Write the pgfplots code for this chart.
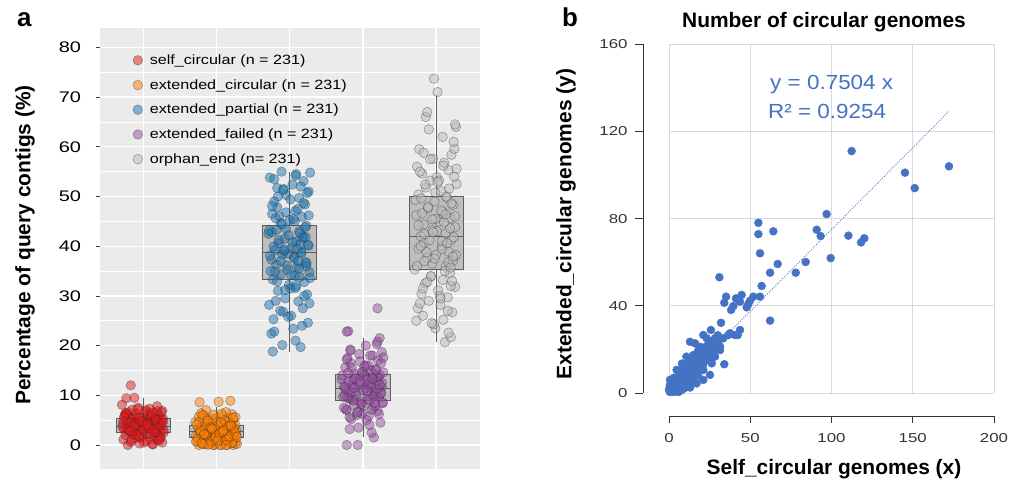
\documentclass[border=0pt]{standalone}
\usepackage{fontspec}
\setmainfont{Liberation Sans}
\newfontfamily\tickfont[FakeStretch=1.3]{Liberation Sans}
\newfontfamily\legfont[FakeStretch=1.2]{Liberation Sans}
\newfontfamily\regfont[FakeStretch=1.1]{Liberation Sans}
\usepackage{pgfplots}
\usepackage{pgfplotstable}
\pgfplotsset{compat=1.18}
\usepgfplotslibrary{statistics}

\definecolor{bgA}{HTML}{EBEBEB}
\definecolor{boxfill}{HTML}{BEBEBE}
\definecolor{boxedge}{HTML}{5E5E5E}
\definecolor{cred}{HTML}{E41A1C}
\definecolor{corange}{HTML}{FF7F00}
\definecolor{cblue}{HTML}{1F77B4}
\definecolor{cpurple}{HTML}{984EA3}
\definecolor{cgray}{HTML}{BDBDBD}
\definecolor{ptblue}{HTML}{4472C4}
\definecolor{gridB}{HTML}{D9D9D9}
\definecolor{axisB}{HTML}{333333}

% jittered points, panel a
\pgfplotstableread{
x y
0.79 0.0
1.13 0.1
0.95 0.3
1.26 0.5
0.83 0.6
1.04 0.8
1.19 1.0
0.73 1.1
1.09 1.3
0.89 1.4
1.23 1.6
0.98 1.7
1.15 1.9
0.76 2.0
1.07 2.2
0.86 2.3
1.28 2.5
0.92 2.6
1.01 2.7
0.81 2.8
1.17 3.0
0.74 3.1
1.11 3.2
0.96 3.3
1.21 3.4
0.87 3.5
1.05 3.6
1.25 3.7
0.78 3.8
1.02 3.9
0.91 4.0
1.18 4.1
0.72 4.2
1.12 4.3
0.94 4.4
1.24 4.5
0.84 4.6
1.08 4.7
0.99 4.8
1.20 4.9
0.77 5.0
1.14 5.1
0.88 5.2
1.27 5.3
0.97 5.5
1.10 5.6
0.82 5.7
1.22 5.9
0.75 6.0
1.06 6.1
0.90 6.3
1.16 6.4
0.80 6.6
1.03 6.7
1.26 6.9
0.85 7.1
1.09 7.3
0.93 7.5
1.19 7.8
0.71 8.1
1.13 0.2
0.95 1.5
1.23 2.4
0.88 3.6
1.00 4.6
1.17 5.4
0.76 6.2
0.77 9.4
0.88 9.5
0.83 12.0
1.20 1.2
0.94 1.8
1.09 2.3
0.83 2.7
1.28 3.0
1.02 3.3
0.80 3.5
1.13 3.8
0.96 4.0
1.23 4.2
0.88 4.4
1.06 4.7
0.73 4.9
1.16 5.2
0.92 5.5
1.10 5.8
0.78 6.2
1.25 6.6
1.04 7.0
0.85 2.0
1.18 2.5
0.99 2.9
1.14 3.2
0.72 3.6
1.21 3.9
0.89 4.1
1.07 4.3
0.81 4.6
1.26 5.0
0.95 5.4
1.11 6.0
0.76 6.4
1.19 6.8
1.01 0.5
0.84 1.0
1.24 1.5
0.91 2.1
1.15 2.6
0.79 3.1
1.08 3.4
0.87 3.7
1.27 4.5
0.98 4.8
1.17 5.1
0.74 5.7
1.12 6.5
0.93 7.2
1.22 0.9
0.82 2.8
1.05 4.0
}\redtab

\pgfplotstableread{
x y
2.23 0.0
1.98 0.0
2.15 0.0
1.76 0.0
2.07 0.0
1.86 0.1
2.28 0.2
1.92 0.3
2.01 0.4
1.81 0.5
2.17 0.6
1.74 0.7
2.11 0.8
1.96 0.9
2.21 1.0
1.87 1.1
2.05 1.2
2.25 1.3
1.78 1.4
2.02 1.5
1.91 1.6
2.18 1.7
1.72 1.8
2.12 1.9
1.94 2.0
2.24 2.1
1.84 2.2
2.08 2.3
1.99 2.4
2.20 2.5
1.77 2.6
2.14 2.7
1.88 2.8
2.27 2.9
1.97 3.0
2.10 3.1
1.82 3.2
2.22 3.3
1.75 3.4
2.06 3.5
1.90 3.6
2.16 3.7
1.80 3.8
2.03 3.9
2.26 4.0
1.85 4.1
2.09 4.2
1.93 4.4
2.19 4.5
1.71 4.6
2.13 4.8
1.95 4.9
2.23 5.1
1.88 5.2
2.00 5.4
2.17 5.5
1.76 5.7
2.08 5.9
1.83 6.0
2.21 6.2
1.79 6.4
2.13 6.6
1.95 0.0
2.26 0.3
1.83 1.2
2.04 2.2
1.86 7.0
1.77 8.6
2.03 8.7
2.19 8.9
2.05 0.0
1.82 0.2
2.22 0.5
1.93 0.8
2.12 1.0
1.74 1.3
2.17 1.5
1.98 1.8
2.27 2.0
1.87 2.3
2.08 2.5
1.79 2.7
2.15 3.0
1.91 3.2
2.24 3.4
1.84 3.7
2.01 4.0
2.19 4.3
1.76 4.6
2.11 5.0
1.95 5.3
2.26 5.6
1.81 6.0
2.07 6.3
1.89 0.1
2.21 0.4
1.72 0.7
2.14 1.1
1.99 1.4
2.18 1.7
1.85 2.1
2.04 2.4
2.25 2.6
1.78 2.9
2.10 3.1
1.92 3.5
2.16 3.8
1.73 4.1
2.06 4.5
1.88 4.9
2.23 5.5
1.96 6.1
2.13 0.0
1.80 0.3
2.02 0.9
2.28 1.6
1.83 2.2
2.09 2.8
1.94 3.3
2.20 3.9
}\orangetab

\pgfplotstableread{
x y
2.77 18.8
3.15 19.7
2.90 20.1
3.08 21.0
2.75 22.4
2.79 22.8
3.05 23.4
3.25 24.6
2.78 25.3
3.02 26.0
2.91 26.8
3.18 27.5
2.72 28.2
3.12 28.9
2.94 29.5
3.24 30.3
2.84 31.0
3.08 31.6
2.99 32.2
3.20 32.8
2.77 33.3
3.14 33.8
2.88 34.3
3.27 34.8
2.97 35.3
3.10 35.8
2.82 36.3
3.22 36.8
2.75 37.3
3.06 37.8
2.90 38.3
3.16 38.8
2.80 39.2
3.03 39.7
3.26 40.1
2.85 40.6
3.09 41.0
2.93 41.5
3.19 42.0
2.71 42.5
3.13 43.0
2.95 43.5
3.23 44.1
2.88 44.7
3.00 45.3
3.17 45.9
2.76 46.5
3.08 47.1
2.83 47.8
3.21 48.4
2.79 49.0
3.13 49.7
2.95 50.3
3.26 51.0
2.83 51.7
3.04 52.4
3.19 53.1
2.73 53.8
3.09 54.5
2.89 55.0
3.23 36.0
2.98 38.5
3.15 40.4
2.76 42.8
3.07 34.0
2.86 46.0
3.28 54.8
2.92 51.5
3.01 31.5
2.81 29.0
3.20 30.0
2.94 31.2
3.09 32.0
2.83 32.9
3.28 33.6
3.02 34.2
2.80 34.9
3.13 35.5
2.96 36.1
3.23 36.6
2.88 37.0
3.06 37.6
2.73 38.1
3.16 38.6
2.92 39.0
3.10 39.5
2.78 39.9
3.25 40.3
3.04 40.8
2.85 41.2
3.18 41.7
2.99 42.2
3.14 42.7
2.72 43.2
3.21 43.8
2.89 44.4
3.07 45.0
2.81 45.6
3.26 46.2
2.95 46.8
3.11 47.5
2.76 48.1
3.19 48.7
3.01 49.4
2.84 50.0
3.24 50.7
2.91 51.3
3.15 52.0
2.79 53.5
3.08 54.2
2.87 27.0
3.27 28.5
2.98 25.8
3.17 24.0
2.74 35.0
3.12 37.0
2.93 39.3
3.22 41.8
2.82 43.3
3.05 45.5
}\bluetab

\pgfplotstableread{
x y
3.78 0.0
3.93 0.0
4.15 1.5
4.12 2.5
3.82 3.2
4.24 4.5
3.84 5.2
4.08 5.8
3.99 6.3
4.20 6.8
3.77 7.2
4.14 7.6
3.88 8.0
4.27 8.4
3.97 8.7
4.10 9.0
3.82 9.3
4.22 9.6
3.75 9.9
4.06 10.2
3.90 10.5
4.16 10.8
3.80 11.1
4.03 11.4
4.26 11.7
3.85 12.0
4.09 12.3
3.93 12.6
4.19 12.9
3.71 13.2
4.13 13.5
3.95 13.8
4.23 14.1
3.88 14.4
4.00 14.8
4.17 15.2
3.76 15.6
4.08 16.0
3.83 16.5
4.21 17.0
3.79 17.5
4.13 18.0
3.95 18.3
4.26 18.7
3.83 19.2
4.04 20.0
4.19 20.3
4.23 21.5
3.80 22.9
3.78 22.8
4.20 27.5
3.98 8.2
4.15 10.0
3.76 11.2
4.07 12.4
3.86 13.0
4.28 14.6
3.92 6.0
4.01 7.8
3.81 9.5
4.17 10.7
3.74 11.8
4.11 15.0
3.96 16.8
4.21 12.8
3.87 9.2
4.05 13.7
4.25 10.4
3.78 7.0
4.02 14.0
4.05 5.0
3.82 5.6
4.22 6.2
3.93 6.7
4.12 7.1
3.74 7.5
4.17 7.9
3.98 8.3
4.27 8.6
3.87 8.9
4.08 9.2
3.79 9.5
4.15 9.8
3.91 10.1
4.24 10.4
3.84 10.7
4.01 11.0
4.19 11.3
3.76 11.6
4.11 11.9
3.95 12.2
4.26 12.5
3.81 12.8
4.07 13.1
3.89 13.4
4.21 13.7
3.72 14.0
4.14 14.3
3.99 14.7
4.18 15.1
3.85 15.5
4.04 16.0
4.25 16.5
3.78 17.2
4.10 18.0
3.92 6.5
4.16 8.5
3.73 9.7
4.06 10.9
3.88 11.5
4.23 12.1
3.96 12.7
4.13 13.3
3.80 14.5
4.02 15.8
4.28 17.6
3.83 19.0
4.09 4.0
3.94 3.5
4.20 20.8
}\purpletab

\pgfplotstableread{
x y
5.12 20.7
5.20 21.7
5.17 22.6
4.99 23.5
4.97 24.3
5.10 25.2
4.82 26.0
5.22 26.7
4.75 27.5
5.06 28.2
4.90 29.0
5.16 29.7
4.80 30.4
5.03 31.1
5.26 31.8
4.85 32.5
5.09 33.2
4.93 33.9
5.19 34.6
4.71 35.3
5.13 35.9
4.95 36.5
5.23 37.1
4.88 37.7
5.00 38.3
5.17 38.9
4.76 39.5
5.08 40.1
4.83 40.7
5.21 41.3
4.79 42.0
5.13 42.6
4.95 43.2
5.26 43.8
4.83 44.4
5.04 45.0
5.19 45.6
4.73 46.2
5.09 46.9
4.89 47.6
5.23 48.3
4.98 49.0
5.15 49.7
4.76 50.4
5.07 51.1
4.86 51.8
5.28 52.5
4.92 53.2
5.01 53.9
4.81 54.6
5.17 55.3
4.74 56.0
5.11 56.8
4.96 57.6
5.21 58.4
4.77 59.5
5.25 59.6
5.24 61.0
4.90 63.5
5.27 64.0
5.26 64.5
4.86 66.0
4.88 67.0
5.02 71.0
4.97 73.7
4.84 37.0
5.08 41.0
4.99 45.5
5.20 32.0
4.78 28.5
5.05 30.0
4.82 31.5
5.22 33.0
4.93 34.0
5.12 35.0
4.74 36.0
5.17 36.8
4.98 37.5
5.27 38.2
4.87 38.8
5.08 39.4
4.79 40.0
5.15 40.6
4.91 41.2
5.24 41.8
4.84 42.4
5.01 43.0
5.19 43.6
4.76 44.2
5.11 44.8
4.95 45.4
5.26 46.0
4.81 46.6
5.07 47.2
4.89 47.9
5.21 48.6
4.72 49.3
5.14 50.0
4.99 50.8
5.18 51.6
4.85 52.4
5.04 53.2
5.25 54.0
4.78 55.0
5.10 56.2
4.92 57.5
5.16 27.0
4.73 25.0
5.06 29.5
4.88 32.8
5.23 37.9
4.96 42.8
5.13 46.4
4.80 49.6
5.02 52.9
5.28 55.6
4.83 58.8
5.09 62.0
4.94 24.5
5.20 35.7
}\graytab

% panel b: self_circular vs extended_circular counts
\pgfplotstableread{
x y
112.4 111.0
172.3 104.0
145.2 101.1
151.2 94.0
97.0 82.1
55.0 78.1
55.0 72.9
64.2 74.2
90.9 74.9
93.3 72.0
110.4 72.2
118.2 69.1
120.2 71.0
56.0 64.1
66.9 59.2
62.2 55.2
78.0 55.2
84.1 60.1
99.5 61.9
31.0 53.1
57.0 49.1
44.7 45.0
41.2 43.4
35.1 44.2
34.0 41.4
51.9 44.2
56.0 44.2
48.8 40.8
47.8 39.3
38.2 38.1
39.6 39.9
43.7 41.9
49.8 42.3
62.2 33.2
32.0 32.2
43.7 28.9
42.3 26.6
36.5 26.6
37.5 27.4
40.6 26.6
34.0 13.2
25.8 28.9
31.4 21.2
33.4 25.1
30.3 22.8
28.3 25.1
23.2 25.1
21.1 26.6
27.3 18.9
31.4 19.7
26.3 13.6
28.3 16.7
23.2 20.5
23.2 15.1
19.1 21.2
19.1 15.9
16.0 22.8
15.0 17.4
12.9 23.5
10.7 16.7
8.8 12.1
4.7 10.6
12.9 9.8
17.0 9.0
21.1 10.6
25.2 8.3
21.1 6.0
17.0 4.4
12.9 5.2
8.8 6.0
4.7 4.4
0.6 6.0
0.5 2.2
3.7 0.6
7.8 1.4
0.5 0.5
1.0 1.0
1.0 2.0
2.0 0.5
2.0 2.0
2.0 3.0
3.0 1.0
3.0 2.0
3.0 4.0
4.0 2.0
4.0 3.0
4.0 5.0
5.0 1.0
5.0 3.0
5.0 6.0
6.0 2.0
6.0 4.0
6.0 7.0
7.0 3.0
7.0 5.0
7.0 8.0
8.0 4.0
8.0 7.0
8.0 9.0
9.0 5.0
9.0 8.0
9.0 10.0
10.0 6.0
10.0 9.0
10.0 12.0
0.0 1.5
0.5 3.5
2.0 5.0
3.0 7.0
6.0 9.5
8.0 13.5
11.0 3.0
14.0 4.5
15.0 7.5
11.0 8.0
11.0 12.5
12.0 10.5
12.0 14.0
13.0 12.0
14.0 11.0
14.0 15.0
15.0 10.0
15.0 13.0
16.0 12.0
16.0 15.0
17.0 11.5
17.0 17.0
18.0 13.5
18.0 19.5
20.0 14.0
20.0 17.5
21.0 13.0
21.0 19.0
22.0 16.0
22.0 21.0
24.0 18.0
24.0 22.0
25.0 17.0
26.0 20.5
27.0 24.0
29.0 22.0
30.0 26.5
18.0 8.0
13.0 2.5
9.0 2.0
6.0 0.5
1.5 4.5
}\circtab

\pgfplotsset{
 jit/.style={only marks, mark=*, mark size=4.8bp,
  mark options={fill=#1, fill opacity=0.5, draw=black!85, draw opacity=0.45, line width=0.5bp}},
 bx/.style={boxplot/draw direction=y, fill=boxfill, draw=boxedge, line width=0.7bp, forget plot},
}

\begin{document}
\begin{tikzpicture}
\useasboundingbox (0,0) rectangle (1011bp,486bp);

% ---- panel a
\begin{axis}[at={(100bp,17bp)}, anchor=south west, scale only axis,
 width=380bp, height=441bp,
 xmin=0.41, xmax=5.6, ymin=-4.83, ymax=83.9,
 axis background/.style={fill=bgA}, axis line style={draw=none},
 xtick={1,2,3,4,5}, xticklabels={,,,,,},
 ytick={0,10,...,80}, minor ytick={5,15,...,75},
 grid=both,
 major grid style={draw=white, line width=1.3bp},
 minor grid style={draw=white, line width=0.6bp},
 tick align=outside, ytick pos=left, xtick pos=bottom,
 major tick length=3.5bp, minor tick length=0pt,
 xtick style={draw=none}, ytick style={draw=black!75, line width=0.7bp},
 /pgf/number format/assume math mode=true,
 yticklabel style={font=\tickfont\fontsize{15.4}{15.4}\selectfont, xshift=-12bp},
 legend cell align=left,
 legend image code/.code={\path[draw=none, fill=none] (0bp,0bp) -- (15bp,0bp);
  \draw[mark repeat=2,mark phase=2,#1] plot coordinates {(0bp,0bp) (5bp,0bp) (10bp,0bp)};},
 legend style={at={(0.078,0.949)}, anchor=north west, draw=none, fill=none,
  font=\legfont\fontsize{13.5}{13.5}\selectfont, row sep=9.5bp},
]
\addplot[bx, boxplot prepared={draw position=1, lower whisker=0, lower quartile=2.6,
 median=3.7, upper quartile=5.3, upper whisker=9.5, box extend=0.74, whisker extend=0}] coordinates {};
\addplot[bx, boxplot prepared={draw position=2, lower whisker=0, lower quartile=1.5,
 median=2.8, upper quartile=4.0, upper whisker=7.7, box extend=0.74, whisker extend=0}] coordinates {};
\addplot[bx, boxplot prepared={draw position=3, lower whisker=18.8, lower quartile=33.3,
 median=38.8, upper quartile=44.1, upper whisker=55.0, box extend=0.74, whisker extend=0}] coordinates {};
\addplot[bx, boxplot prepared={draw position=4, lower whisker=1.6, lower quartile=8.9,
 median=11.4, upper quartile=14.3, upper whisker=21.5, box extend=0.74, whisker extend=0}] coordinates {};
\addplot[bx, boxplot prepared={draw position=5, lower whisker=20.8, lower quartile=35.3,
 median=42.0, upper quartile=50.0, upper whisker=70.5, box extend=0.74, whisker extend=0}] coordinates {};

\addplot[jit=cred] table[x=x, y=y] {\redtab};
\addlegendentry{self\_circular (n = 231)}
\addplot[jit=corange] table[x=x, y=y] {\orangetab};
\addlegendentry{extended\_circular (n = 231)}
\addplot[jit=cblue] table[x=x, y=y] {\bluetab};
\addlegendentry{extended\_partial (n = 231)}
\addplot[jit=cpurple] table[x=x, y=y] {\purpletab};
\addlegendentry{extended\_failed (n = 231)}
\addplot[jit=cgray] table[x=x, y=y] {\graytab};
\addlegendentry{orphan\_end (n= 231)}
\end{axis}

% ---- panel b, data and grid
\begin{axis}[at={(669bp,93bp)}, anchor=south west, scale only axis,
 width=325bp, height=348.7bp,
 xmin=0, xmax=200, ymin=0, ymax=160,
 xtick={0,50,...,200}, ytick={0,40,...,160},
 xticklabels={,,,,,}, yticklabels={,,,,,}, tick style={draw=none},
 grid=major, major grid style={draw=gridB, line width=0.8bp},
 axis line style={draw=none}, clip=false,
]
\addplot[ptblue, line width=0.9bp, dash pattern=on 0.9bp off 1.5bp] coordinates {(0,0) (172,129.07)};
\addplot[only marks, mark=*, mark size=4bp, draw=ptblue, fill=ptblue] table[x=x, y=y] {\circtab};
\end{axis}

% offset y axis
\begin{axis}[at={(643bp,93bp)}, anchor=south west, scale only axis,
 width=5bp, height=348.7bp, xmin=0, xmax=1, ymin=0, ymax=160,
 hide x axis, axis y line*=left, ytick={0,40,...,160},
 tick align=outside, major tick length=8bp,
 y axis line style={draw=axisB, line width=0.9bp},
 ytick style={draw=axisB, line width=0.9bp},
 /pgf/number format/assume math mode=true,
 yticklabel style={font=\tickfont\fontsize{13}{13}\selectfont, text=axisB, xshift=-4bp},
]
\end{axis}

% offset x axis
\begin{axis}[at={(669bp,70bp)}, anchor=south west, scale only axis,
 width=325bp, height=5bp, xmin=0, xmax=200, ymin=0, ymax=1,
 hide y axis, axis x line*=bottom, xtick={0,50,...,200},
 tick align=outside, major tick length=7bp,
 x axis line style={draw=axisB, line width=0.9bp},
 xtick style={draw=axisB, line width=0.9bp},
 /pgf/number format/assume math mode=true,
 xticklabel style={font=\tickfont\fontsize{13}{13}\selectfont, text=axisB, yshift=-7bp},
]
\end{axis}

% titles and labels
\node[rotate=90, font=\bfseries\fontsize{21}{21}\selectfont] at (25bp,241bp) {Percentage of query contigs (\%)};
\node[anchor=base west, inner sep=0pt, font=\bfseries\fontsize{26}{26}\selectfont] at (17bp,459bp) {a};
\node[anchor=base west, inner sep=0pt, font=\bfseries\fontsize{26}{26}\selectfont] at (562bp,459bp) {b};
\node[font=\bfseries\fontsize{21}{21}\selectfont] at (824bp,463.5bp) {Number of circular genomes};
\node[font=\bfseries\fontsize{21}{21}\selectfont] at (834bp,17bp) {Self\_circular genomes (x)};
\node[rotate=90, font=\bfseries\fontsize{21}{21}\selectfont] at (566bp,262bp) {Extended\_circular genomes (y)};
\node[anchor=base west, inner sep=0pt, text=ptblue, font=\regfont\fontsize{20.5}{20.5}\selectfont] at (770bp,396bp) {y = 0.7504 x};
\node[anchor=base west, inner sep=0pt, text=ptblue, font=\regfont\fontsize{20.5}{20.5}\selectfont] at (768bp,367.7bp) {R² = 0.9254};
\end{tikzpicture}
\end{document}
